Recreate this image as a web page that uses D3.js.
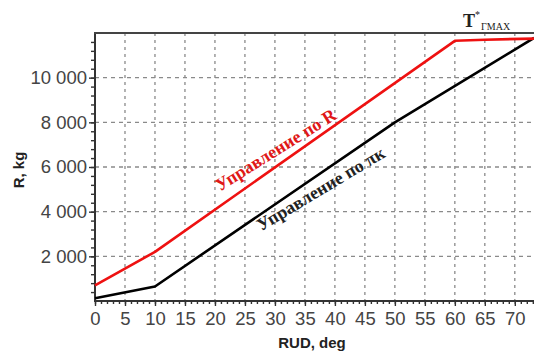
<!DOCTYPE html>
<html><head><meta charset="utf-8">
<script src="https://cdn.jsdelivr.net/npm/d3@7"></script>
<style>
html,body{margin:0;padding:0;background:#fff;}
svg{display:block;}
</style></head>
<body>
<svg id="c" width="534" height="355"></svg>
<script>
const xTickValues = [0,5,10,15,20,25,30,35,40,45,50,55,60,65,70];
const yTickValues = [2000,4000,6000,8000,10000];
const yTickLabels = ["2 000","4 000","6 000","8 000","10 000"];
const redX = [0,10,60,65,73.2];
const redY = [700,2200,11650,11700,11750];
const blackX = [0,10,50,73.2];
const blackY = [120,650,8000,11780];
const redLabel = "Управление по R";
const blackLabel = "Управление по πк";
const xTitle = "RUD, deg";
const yTitle = "R, kg";

const svg = d3.select("#c");
const L = 95, R = 534, T = 33, B = 301;
const x = d3.scaleLinear().domain([0,73.2]).range([L,R]);
const y = d3.scaleLinear().domain([0,12000]).range([B,T]);
const tickFont = "'Liberation Sans Narrow','Arial Narrow','Liberation Sans',Arial,sans-serif";

// grid
const g = svg.append("g");
g.selectAll("line.vx").data(xTickValues.filter(d=>d>0)).join("line")
  .attr("x1",d=>x(d)).attr("x2",d=>x(d)).attr("y1",T).attr("y2",B)
  .attr("stroke","#8a8a8a").attr("stroke-width",1.3).attr("stroke-dasharray","3,4");
g.selectAll("line.hy").data(yTickValues).join("line")
  .attr("x1",L).attr("x2",R).attr("y1",d=>y(d)).attr("y2",d=>y(d))
  .attr("stroke","#8a8a8a").attr("stroke-width",1.3).attr("stroke-dasharray","4,4");

// axes
const xAxisMinor = d3.axisBottom(x).tickValues(d3.range(0,74,1)).tickSize(3).tickFormat("");
const xAxis = d3.axisBottom(x).tickValues(xTickValues).tickSize(5).tickPadding(6).tickFormat(d3.format("d"));
const yAxisMinor = d3.axisLeft(y).tickValues(d3.range(400,12000,400)).tickSize(4).tickFormat("");
const yAxis = d3.axisLeft(y).tickValues(yTickValues).tickSize(6).tickPadding(2).tickFormat((d,i)=>yTickLabels[i]);

function styleAxis(sel){
  sel.select(".domain").remove();
  sel.selectAll("line").attr("stroke","#333").attr("stroke-width",1.4);
  sel.selectAll("text").attr("fill","#444").style("font-family",tickFont);
}
svg.append("g").attr("transform",`translate(0,${B})`).call(xAxisMinor).call(styleAxis);
svg.append("g").attr("transform",`translate(0,${B})`).call(xAxis).call(styleAxis)
  .selectAll("text").style("font-size","18.5px");
svg.append("g").attr("transform",`translate(${L},0)`).call(yAxisMinor).call(styleAxis);
svg.append("g").attr("transform",`translate(${L},0)`).call(yAxis).call(styleAxis)
  .selectAll("text").style("font-size","18.5px");

// frame lines
svg.append("line").attr("x1",L).attr("x2",L).attr("y1",T).attr("y2",B+1).attr("stroke","#333").attr("stroke-width",2);
svg.append("line").attr("x1",L).attr("x2",R).attr("y1",B).attr("y2",B).attr("stroke","#333").attr("stroke-width",2);
svg.append("line").attr("x1",L-1).attr("x2",R).attr("y1",T).attr("y2",T).attr("stroke","#444").attr("stroke-width",2);

// series
const line = d3.line().x(d=>x(d[0])).y(d=>y(d[1]));
svg.append("path").datum(blackX.map((v,i)=>[v,blackY[i]])).attr("d",line)
  .attr("fill","none").attr("stroke","#000").attr("stroke-width",2.6).attr("stroke-linejoin","round");
svg.append("path").datum(redX.map((v,i)=>[v,redY[i]])).attr("d",line)
  .attr("fill","none").attr("stroke","#ee1111").attr("stroke-width",2.6).attr("stroke-linejoin","round");

// annotations
svg.append("text").attr("transform",`translate(${x(30.3)},${y(6700)}) rotate(-32)`)
  .attr("text-anchor","middle").attr("dominant-baseline","middle")
  .style("font-family","'Liberation Serif','Times New Roman',serif").style("font-weight","bold")
  .style("font-size","18px").attr("fill","#e01818").text(redLabel);
svg.append("text").attr("transform",`translate(${x(37.8)},${y(4950)}) rotate(-31)`)
  .attr("text-anchor","middle").attr("dominant-baseline","middle")
  .style("font-family","'Liberation Serif','Times New Roman',serif").style("font-weight","bold")
  .style("font-size","18px").attr("fill","#222").text(blackLabel);

// T*Г MAX
const tt = svg.append("text").attr("x",463).attr("y",27)
  .style("font-family","'Liberation Serif','Times New Roman',serif").attr("fill","#222");
tt.append("tspan").style("font-size","18px").style("font-weight","bold").text("T");
tt.append("tspan").style("font-size","10px").attr("dy",-9).text("*");
tt.append("tspan").style("font-size","10px").attr("dy",12).attr("dx",1).text("ГMAX");

// titles
svg.append("text").attr("x",312).attr("y",348).attr("text-anchor","middle")
  .style("font-family","'Liberation Sans',Arial,sans-serif").style("font-weight","bold")
  .style("font-size","15px").attr("fill","#222").text(xTitle);
svg.append("text").attr("transform","translate(24,170) rotate(-90)").attr("text-anchor","middle")
  .style("font-family","'Liberation Sans',Arial,sans-serif").style("font-weight","bold")
  .style("font-size","15px").attr("fill","#222").text(yTitle);
</script>
</body></html>
